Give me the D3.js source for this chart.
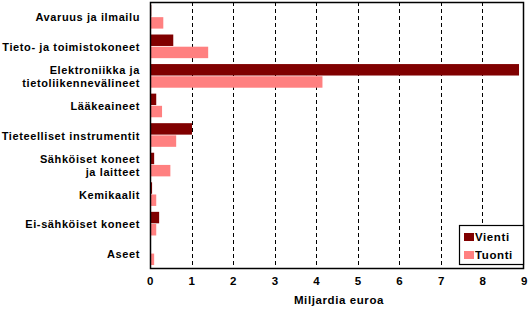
<!DOCTYPE html>
<meta charset="utf-8">
<style>
body { margin: 0; background: #fff; }
text { font-family: 'Liberation Sans', Arial, sans-serif; font-weight: bold; font-size: 11px; fill: #000; }
.lbl { letter-spacing: 0.6px; }
</style>
<body>
<script src="https://d3js.org/d3.v7.min.js"></script>
<script>
// categories (label lines) and values, billion euro
var categories = ["Avaruus ja ilmailu", "Tieto- ja toimistokoneet", "Elektroniikka ja|tietoliikennevälineet",
  "Lääkeaineet", "Tieteelliset instrumentit", "Sähköiset koneet|ja laitteet", "Kemikaalit",
  "Ei-sähköiset koneet", "Aseet"];
var vienti = [0.03, 0.56, 8.88, 0.15, 1.01, 0.10, 0.05, 0.22, 0.0];
var tuonti = [0.32, 1.40, 4.15, 0.29, 0.63, 0.49, 0.15, 0.15, 0.10];
var seriesNames = ["Vienti", "Tuonti"];
var colors = ["#800000", "#ff8080"];
var xTicks = [0, 1, 2, 3, 4, 5, 6, 7, 8, 9];

var W = 528, H = 309;
var margin = {top: 2, right: 4, bottom: 41, left: 150};
var width = W - margin.left - margin.right,
    height = H - margin.top - margin.bottom;

var svg = d3.select("body").append("svg").attr("width", W).attr("height", H);
var g = svg.append("g").attr("transform", "translate(" + margin.left + "," + margin.top + ")");

var x = d3.scaleLinear().domain([0, 9]).range([0, width]);
var y = d3.scaleBand().domain(categories).range([0, height]).paddingInner(0.2).paddingOuter(0.1);
var sub = d3.scaleBand().domain(seriesNames).range([0, y.bandwidth()]).paddingInner(0.06);

// dashed gridlines
g.append("g").selectAll("line").data(xTicks.slice(1, -1)).enter().append("line")
  .attr("x1", function(d) { return Math.round(x(d)) + 0.5; })
  .attr("x2", function(d) { return Math.round(x(d)) + 0.5; })
  .attr("y1", 0).attr("y2", height)
  .attr("stroke", "#000").attr("stroke-dasharray", "4,3");

// bars
var data = [];
categories.forEach(function(c, i) {
  data.push({cat: c, s: "Vienti", v: vienti[i], col: colors[0]});
  data.push({cat: c, s: "Tuonti", v: tuonti[i], col: colors[1]});
});
g.selectAll(".bar").data(data).enter().append("rect")
  .attr("x", 0)
  .attr("y", function(d) { return y(d.cat) + sub(d.s); })
  .attr("width", function(d) { return x(d.v); })
  .attr("height", sub.bandwidth())
  .attr("fill", function(d) { return d.col; });

// frame
g.append("rect").attr("x", 0.5).attr("y", 0.5).attr("width", width - 1).attr("height", height)
  .attr("fill", "none").attr("stroke", "#000").attr("stroke-width", 1.5);

// x axis labels
var xa = g.append("g").attr("transform", "translate(0," + height + ")")
  .call(d3.axisBottom(x).tickValues(xTicks).tickSize(0).tickPadding(9).tickFormat(d3.format("d")));
xa.select(".domain").remove();
xa.selectAll("text").attr("class", "lbl").style("font-size", "11.5px").style("font-family", null);

// category labels
categories.forEach(function(c) {
  var lines = c.split("|");
  var cy = y(c) + y.bandwidth() / 2;
  var t = g.append("text").attr("class", "lbl").attr("text-anchor", "end")
    .attr("x", -10).attr("y", cy - (lines.length - 1) * 6.5 + 4.5);
  lines.forEach(function(l, j) {
    t.append("tspan").attr("x", -10).attr("dy", j ? 13.5 : 0).text(l);
  });
});

// axis title
svg.append("text").attr("class", "lbl").attr("text-anchor", "middle").style("font-size", "11.5px")
  .attr("x", 339).attr("y", 304).text("Miljardia euroa");

// legend
var leg = svg.append("g").attr("transform", "translate(459,225)");
leg.append("rect").attr("x", 0.5).attr("y", 0.5).attr("width", 64).attr("height", 39)
  .attr("fill", "#fff").attr("stroke", "#000").attr("stroke-width", 1.2);
seriesNames.forEach(function(s, i) {
  leg.append("rect").attr("x", 5).attr("y", 8 + i * 18).attr("width", 10).attr("height", 8).attr("fill", colors[i]);
  leg.append("text").attr("class", "lbl").attr("x", 16).attr("y", 16 + i * 18).style("font-size", "11.5px").text(s);
});
</script>
</body>
